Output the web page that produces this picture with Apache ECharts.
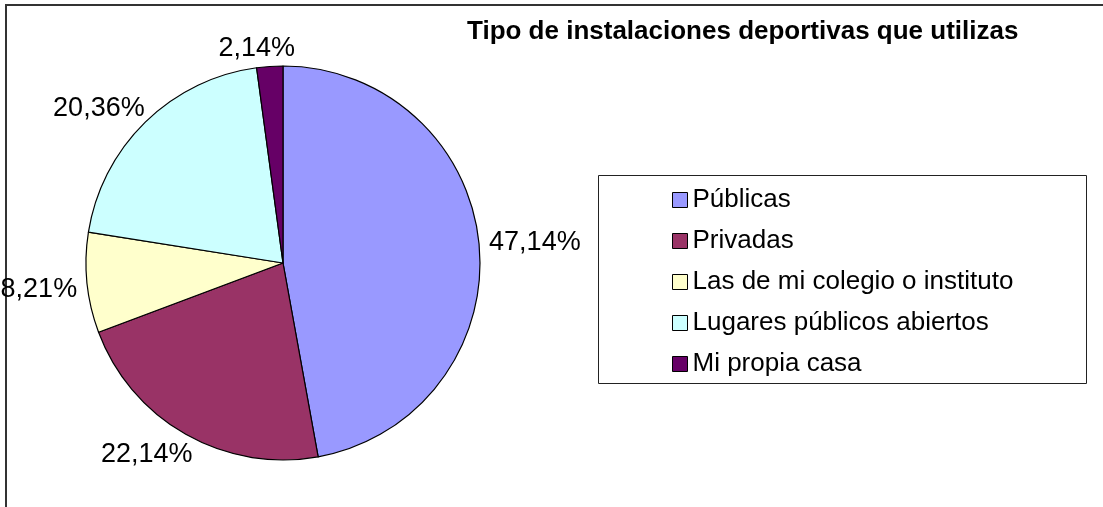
<!DOCTYPE html>
<html>
<head>
<meta charset="utf-8">
<script src="https://cdn.jsdelivr.net/npm/echarts@6/dist/echarts.min.js"></script>
<style>
  html, body { margin: 0; padding: 0; background: #fff; }
  #chart { width: 1103px; height: 507px; }
</style>
</head>
<body>
<div id="chart"></div>
<script>
// datos del grafico
var categories = ['Públicas', 'Privadas', 'Las de mi colegio o instituto', 'Lugares públicos abiertos', 'Mi propia casa'];
var percentages = [47.14, 22.14, 8.21, 20.36, 2.14];
var sliceColors = ['#9999FF', '#993366', '#FFFFCC', '#CCFFFF', '#660066'];

var PIE_X = 283, PIE_Y = 263, PIE_R = 197, LABEL_GAP = 10;
var FONT = '"Liberation Sans", Arial, sans-serif';

var chart = echarts.init(document.getElementById('chart'));

var total = 0;
for (var k = 0; k < percentages.length; k++) { total += percentages[k]; }

// coloca la etiqueta fuera del sector (parecido a Excel)
function placeLabel(params) {
    var i = params.dataIndex;
    var before = 0;
    for (var j = 0; j < i; j++) { before += percentages[j]; }
    var mid = (before + percentages[i] / 2) / total * Math.PI * 2;
    var dx = Math.sin(mid), dy = -Math.cos(mid);
    var w = params.labelRect.width, h = params.labelRect.height * 0.75;
    var rx = PIE_X + dx * (PIE_R + LABEL_GAP);
    var ry = PIE_Y + dy * (PIE_R + LABEL_GAP);
    var fx = (1 - (dx < 0 ? -1 : 1) * Math.pow(Math.abs(dx), 0.42)) / 2;
    var fy = (1 - (dy < 0 ? -1 : 1) * Math.pow(Math.abs(dy), 0.42)) / 2;
    return {
        x: rx - fx * w + w / 2,
        y: ry - fy * h + h / 2 + 2,
        align: 'center',
        verticalAlign: 'middle'
    };
}

var pieData = [];
for (var i = 0; i < categories.length; i++) {
    pieData.push({
        name: categories[i],
        value: percentages[i],
        itemStyle: { color: sliceColors[i] }
    });
}

var option = {
    backgroundColor: '#ffffff',
    animation: false,
    title: {
        text: 'Tipo de instalaciones deportivas que utilizas',
        left: 467,
        top: 19,
        padding: 0,
        textStyle: {
            fontFamily: FONT,
            fontSize: 26,
            fontWeight: 'bold',
            color: '#000'
        }
    },
    legend: {
        orient: 'vertical',
        left: 672,
        top: 187,
        padding: 0,
        itemWidth: 15,
        itemHeight: 15,
        itemGap: 15,
        icon: 'rect',
        selectedMode: false,
        data: categories,
        itemStyle: { borderColor: '#000', borderWidth: 1 },
        textStyle: {
            fontFamily: FONT,
            fontSize: 26,
            lineHeight: 26,
            color: '#000'
        }
    },
    graphic: [
        {
            type: 'polyline',
            silent: true,
            shape: { points: [[6, 700], [6, 5], [1300, 5]] },
            style: { fill: null, stroke: '#333', lineWidth: 2 }
        },
        {
            type: 'rect',
            silent: true,
            shape: { x: 598.5, y: 175.5, width: 488, height: 208 },
            style: { fill: 'none', stroke: '#222', lineWidth: 1 }
        }
    ],
    series: [{
        type: 'pie',
        center: [PIE_X, PIE_Y],
        radius: PIE_R,
        startAngle: 90,
        clockwise: true,
        silent: true,
        itemStyle: { borderColor: '#000', borderWidth: 1.2 },
        label: {
            show: true,
            position: 'inside',
            fontFamily: FONT,
            fontSize: 27,
            color: '#000',
            textBorderWidth: 0,
            formatter: function (p) {
                return p.value.toFixed(2).replace('.', ',') + '%';
            }
        },
        labelLine: { show: false },
        labelLayout: placeLabel,
        emphasis: { disabled: true },
        data: pieData
    }]
};

chart.setOption(option);
</script>
</body>
</html>
